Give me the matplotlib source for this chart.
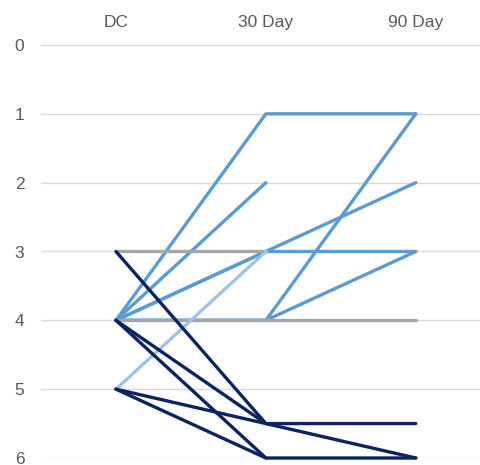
import numpy as np
import matplotlib
matplotlib.use("Agg")
import matplotlib.pyplot as plt

plt.rcParams['font.family'] = ['Liberation Sans', 'DejaVu Sans']

# time points and score ticks
timepoints = ["DC", "30 Day", "90 Day"]
yticks = [0, 1, 2, 3, 4, 5, 6]

# one row per patient: score at DC, 30 day, 90 day (nan = missing)
nan = np.nan
improved = [
    [4, 1, 1],
    [4, 2, nan],
    [4, 3, 2],
    [4, 3, 3],
    [4, 4, 1],
    [4, 4, 3],
]
improved_light = [
    [5, 3, nan],
]
unchanged = [
    [3, 3, nan],
    [4, 4, 4],
]
worse = [
    [3, 5.5, 5.5],
    [4, 5.5, 6],
    [4, 6, 6],
    [5, 5.5, nan],
    [5, 6, nan],
]

fig = plt.figure(figsize=(4.81, 4.65), dpi=100)
ax = fig.add_axes([41/481, 7/465, 440/481, 413/465])

x = np.arange(len(timepoints))
groups = [
    (improved, "#5B9BD5", 2),
    (unchanged, "#A5A5A5", 3),
    (improved_light, "#9DC3E6", 4),
    (worse, "#0A2463", 5),
]
for rows, col, z in groups:
    for r in rows:
        ax.plot(x, r, color=col, lw=2.4, solid_capstyle='round',
                zorder=z, clip_on=False)

ax.set_xlim(-0.5, 2.435)
ax.set_ylim(6, 0)
ax.set_yticks(yticks)
ax.set_yticklabels([str(v) for v in yticks], fontsize=12.5, color="#595959")
ax.xaxis.tick_top()
ax.set_xticks(x)
ax.set_xticklabels(timepoints, fontsize=12.5, color="#595959")
ax.tick_params(axis='both', length=0)
ax.tick_params(axis='y', pad=12)
ax.tick_params(axis='x', pad=11)
for s in ax.spines.values():
    s.set_visible(False)
ax.yaxis.grid(True, color="#D9D9D9", lw=1)
ax.set_axisbelow(True)

fig.savefig("out.png", dpi=100)
